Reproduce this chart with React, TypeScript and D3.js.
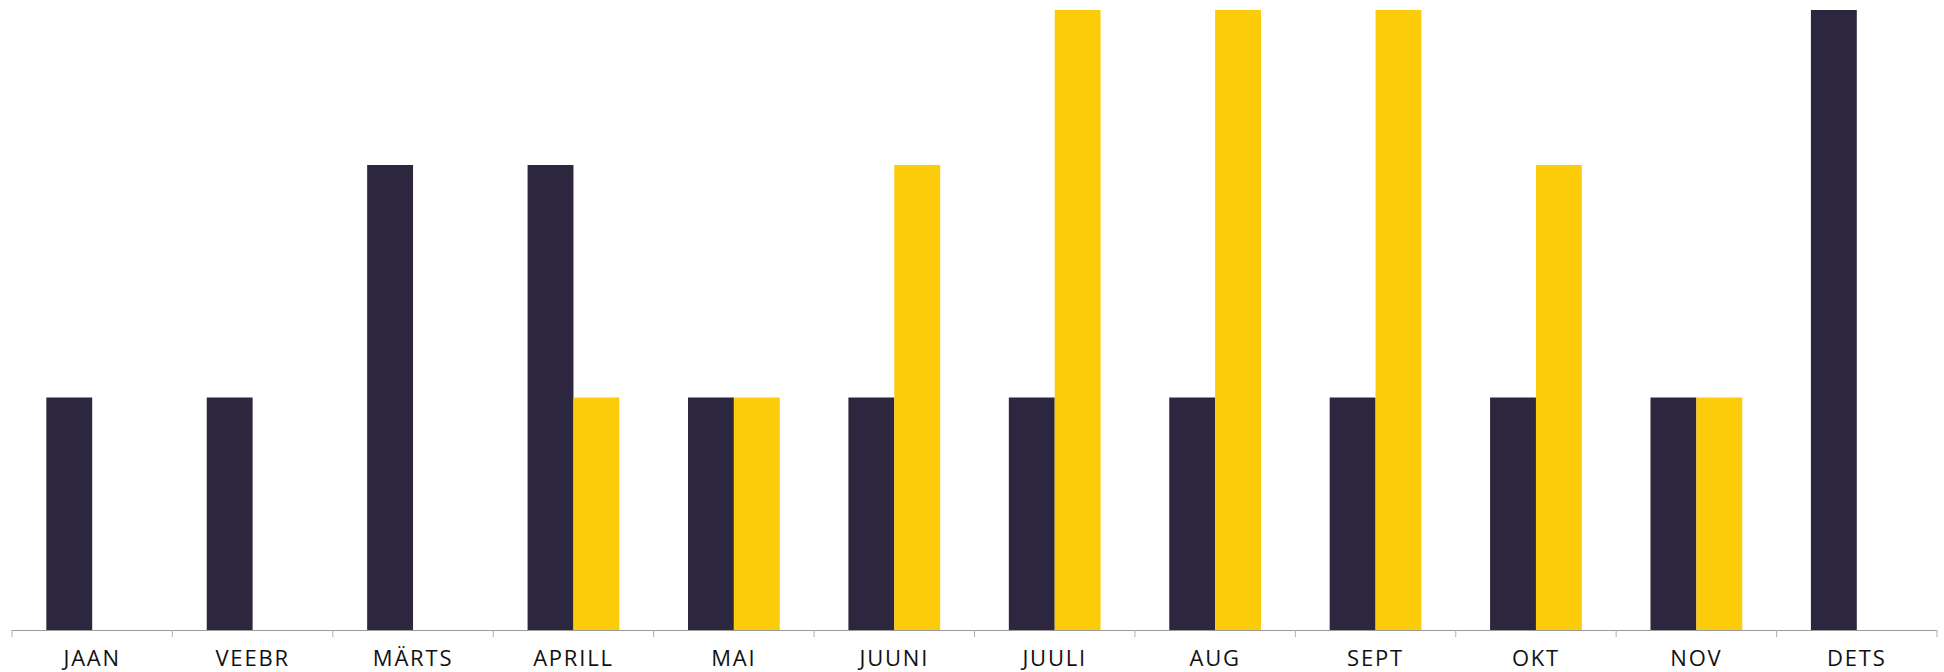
import React from 'react';
import * as d3 from 'd3';

const months = ['JAAN', 'VEEBR', 'MÄRTS', 'APRILL', 'MAI', 'JUUNI', 'JUULI', 'AUG', 'SEPT', 'OKT', 'NOV', 'DETS'];
const darkValues = [3, 3, 6, 6, 3, 3, 3, 3, 3, 3, 3, 8];
const yellowValues = [0, 0, 0, 3, 3, 6, 8, 8, 8, 6, 3, 0];
const seriesKeys = ['dark', 'yellow'];
const seriesColors = ['#2c263e', '#fccb0a'];

const width = 1944;
const height = 672;
const margin = { top: 10, right: 7, bottom: 42, left: 12 };

const App: React.FC = () => {
  const innerW = width - margin.left - margin.right;
  const innerH = height - margin.top - margin.bottom;

  const x0 = d3.scaleBand<string>()
    .domain(months)
    .range([0, innerW])
    .paddingInner(0.428)
    .paddingOuter(0.214);

  const x1 = d3.scaleBand<string>()
    .domain(seriesKeys)
    .range([0, x0.bandwidth()]);

  const y = d3.scaleLinear().domain([0, 8]).range([innerH, 0]);

  const step = x0.step();
  const tickXs = d3.range(months.length + 1).map(i => i * step);

  return (
    <svg width={width} height={height} style={{ position: 'absolute', left: 0, top: 0, background: '#fff' }}>
      <g transform={`translate(${margin.left},${margin.top})`}>
        {months.map((m, i) => (
          <g key={m} transform={`translate(${x0(m)},0)`}>
            {[darkValues[i], yellowValues[i]].map((v, j) => (
              v > 0 ? (
                <rect
                  key={j}
                  x={x1(seriesKeys[j])}
                  y={y(v)}
                  width={x1.bandwidth()}
                  height={innerH - y(v)}
                  fill={seriesColors[j]}
                />
              ) : null
            ))}
          </g>
        ))}
        <line x1={0} x2={innerW} y1={innerH + 0.5} y2={innerH + 0.5} stroke="#9a9a9a" strokeWidth={1.2} />
        {tickXs.map((tx, i) => (
          <line key={i} x1={tx} x2={tx} y1={innerH} y2={innerH + 7} stroke="#b0b0b0" strokeWidth={1} />
        ))}
        {months.map(m => (
          <text
            key={m}
            x={(x0(m) ?? 0) + x0.bandwidth() / 2}
            y={innerH + 35.5}
            textAnchor="middle"
            fill="#111"
            style={{ fontFamily: "'Open Sans', sans-serif", fontSize: '22px', fontWeight: 400, letterSpacing: '1.8px' }}
          >
            {m}
          </text>
        ))}
      </g>
    </svg>
  );
};

export default App;
